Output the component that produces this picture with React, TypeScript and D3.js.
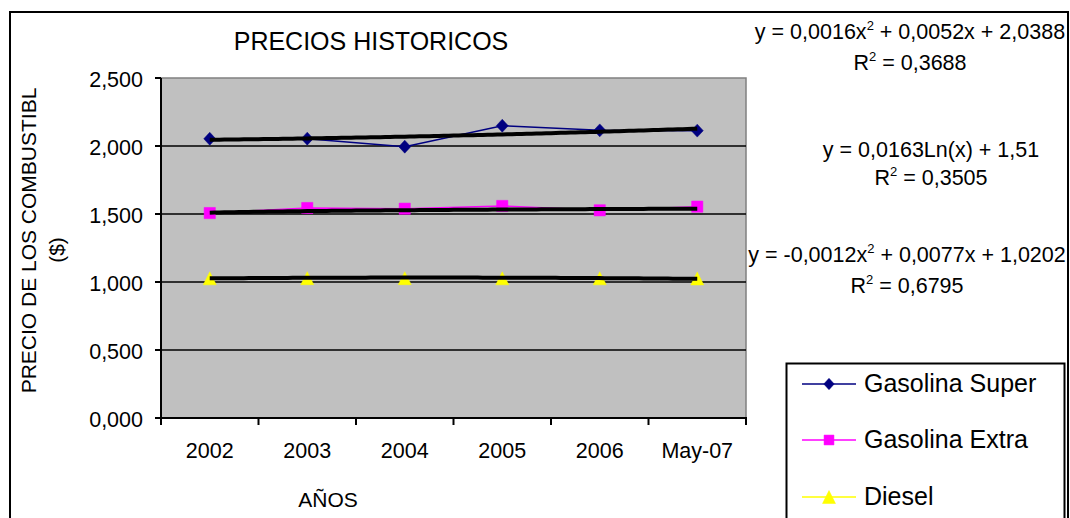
import React from "react";
import * as d3 from "d3";

// Fuel price history per year (units of $)
const categories = ["2002", "2003", "2004", "2005", "2006", "May-07"];
const superValues = [2.053, 2.054, 1.995, 2.149, 2.115, 2.113];
const extraValues = [1.507, 1.544, 1.539, 1.559, 1.527, 1.554];
const dieselValues = [1.027, 1.028, 1.028, 1.027, 1.027, 1.026];
const yTicks = [0, 0.5, 1, 1.5, 2, 2.5];

// Trendline coefficients (x = 1..6)
const superTrend = [0.0016, 0.0052, 2.0388]; // quadratic a, b, c
const extraTrend = [0.0163, 1.51]; // logarithmic a, b
const dieselTrend = [-0.0012, 0.0077, 1.0202]; // quadratic a, b, c
const rSquared = [0.3688, 0.3505, 0.6795];

const seriesNames = ["Gasolina Super", "Gasolina Extra", "Diesel"];
const seriesColors = ["#000080", "#FF00FF", "#FFFF00"];

const FONT = "'Liberation Sans', Arial, sans-serif";
const W = 1070;
const H = 518;

const plot = { left: 161, right: 746, top: 78, bottom: 418 };

const locale = d3.formatLocale({
  decimal: ",",
  thousands: ".",
  grouping: [3],
  currency: ["$", ""],
});
const tickFmt = locale.format(".3f");
const num = (v: number) => String(v).replace(".", ",");

type Shape = "diamond" | "square" | "triangle";

function markerPath(shape: Shape, cx: number, cy: number, s: number): string {
  const p = d3.path();
  const h = s / 2;
  if (shape === "diamond") {
    p.moveTo(cx, cy - h * 1.08);
    p.lineTo(cx + h, cy);
    p.lineTo(cx, cy + h * 1.08);
    p.lineTo(cx - h, cy);
  } else if (shape === "square") {
    p.rect(cx - h * 0.9, cy - h * 0.9, s * 0.9, s * 0.9);
  } else {
    p.moveTo(cx, cy - h);
    p.lineTo(cx + h, cy + h);
    p.lineTo(cx - h, cy + h);
  }
  p.closePath();
  return p.toString();
}

export default function App() {
  const x = d3
    .scaleBand<string>()
    .domain(categories)
    .range([plot.left, plot.right])
    .paddingInner(0)
    .paddingOuter(0);
  const xc = (c: string) => (x(c) as number) + x.bandwidth() / 2;
  const y = d3.scaleLinear().domain([0, 2.5]).range([plot.bottom, plot.top]);

  // trend x (1..6) mapped onto category centres
  const xt = d3
    .scaleLinear()
    .domain([1, categories.length])
    .range([xc(categories[0]), xc(categories[categories.length - 1])]);
  const samples = d3.range(1, categories.length + 0.001, 0.05);
  const quad = (c: number[]) => (t: number) => c[0] * t * t + c[1] * t + c[2];
  const logf = (c: number[]) => (t: number) => c[0] * Math.log(t) + c[1];
  const trendFns = [quad(superTrend), logf(extraTrend), quad(dieselTrend)];

  const lineGen = d3
    .line<[number, number]>()
    .x((d) => d[0])
    .y((d) => d[1]);

  const seriesData = [superValues, extraValues, dieselValues];
  const shapes: Shape[] = ["diamond", "square", "triangle"];
  const markerSizes = [12, 12.5, 13];
  const legendMarkerSizes = [10.5, 11, 13];

  const quadLabel = (c: number[], cx: number, by: number, r2: number) => (
    <g>
      <text x={cx} y={by} textAnchor="middle" fontSize={21.5} fontFamily={FONT} fill="#000">
        <tspan>{`y = ${num(c[0])}x`}</tspan>
        <tspan fontSize={13} dy={-9}>2</tspan>
        <tspan dy={9}>{` + ${num(c[1])}x + ${num(c[2])}`}</tspan>
      </text>
      <text x={cx} y={by + 31} textAnchor="middle" fontSize={21.5} fontFamily={FONT} fill="#000">
        <tspan>R</tspan>
        <tspan fontSize={13} dy={-9}>2</tspan>
        <tspan dy={9}>{` = ${num(r2)}`}</tspan>
      </text>
    </g>
  );

  const legendRows = [384, 440, 497];

  return (
    <svg
      width={W}
      height={H}
      style={{ position: "absolute", left: 0, top: 0, background: "#fff" }}
    >
      {/* chart frame */}
      <rect x={10} y={12} width={1058} height={520} fill="#fff" stroke="#000" strokeWidth={2} />

      {/* title */}
      <text x={371} y={49.5} textAnchor="middle" fontSize={25} fontFamily={FONT} fill="#000">
        PRECIOS HISTORICOS
      </text>

      {/* plot background */}
      <rect
        x={plot.left}
        y={plot.top}
        width={plot.right - plot.left}
        height={plot.bottom - plot.top}
        fill="#C0C0C0"
      />
      {/* gray top/right border */}
      <path
        d={`M${plot.left},${plot.top}H${plot.right}V${plot.bottom}`}
        fill="none"
        stroke="#808080"
        strokeWidth={1.5}
      />

      {/* gridlines */}
      {yTicks
        .filter((t) => t > 0 && t < 2.5)
        .map((t) => (
          <line
            key={"g" + t}
            x1={plot.left}
            x2={plot.right}
            y1={y(t)}
            y2={y(t)}
            stroke="#000"
            strokeWidth={1.5}
          />
        ))}

      {/* axes */}
      <line x1={plot.left} x2={plot.left} y1={plot.top} y2={plot.bottom} stroke="#000" strokeWidth={2} />
      <line x1={plot.left - 1} x2={plot.right + 1} y1={plot.bottom} y2={plot.bottom} stroke="#000" strokeWidth={2} />
      {yTicks.map((t) => (
        <g key={"yt" + t}>
          <line x1={plot.left - 6} x2={plot.left} y1={y(t)} y2={y(t)} stroke="#000" strokeWidth={2} />
          <text
            x={143}
            y={y(t) + 9}
            textAnchor="end"
            fontSize={21.5}
            fontFamily={FONT}
            fill="#000"
          >
            {tickFmt(t)}
          </text>
        </g>
      ))}
      {[...categories.map((c) => x(c) as number), plot.right].map((px, i) => (
        <line key={"xt" + i} x1={px} x2={px} y1={plot.bottom} y2={plot.bottom + 7} stroke="#000" strokeWidth={2} />
      ))}
      {categories.map((c) => (
        <text
          key={"xl" + c}
          x={xc(c)}
          y={458}
          textAnchor="middle"
          fontSize={21.5}
          fontFamily={FONT}
          fill="#000"
        >
          {c}
        </text>
      ))}

      {/* axis titles */}
      <text x={328} y={506.5} textAnchor="middle" fontSize={21} fontFamily={FONT} fill="#000">
        AÑOS
      </text>
      <text
        transform="translate(36,240.5) rotate(-90)"
        textAnchor="middle"
        fontSize={21}
        fontFamily={FONT}
        fill="#000"
      >
        PRECIO DE LOS COMBUSTIBL
      </text>
      <text
        transform="translate(64,250) rotate(-90)"
        textAnchor="middle"
        fontSize={21}
        fontFamily={FONT}
        fill="#000"
      >
        ($)
      </text>

      {/* data series */}
      {seriesData.map((vals, si) => (
        <g key={"s" + si}>
          <path
            d={lineGen(vals.map((v, i) => [xc(categories[i]), y(v)] as [number, number])) || ""}
            fill="none"
            stroke={seriesColors[si]}
            strokeWidth={1.5}
          />
          {vals.map((v, i) => (
            <path
              key={i}
              d={markerPath(shapes[si], xc(categories[i]), y(v), markerSizes[si])}
              fill={seriesColors[si]}
              stroke={seriesColors[si]}
              strokeWidth={0.5}
            />
          ))}
        </g>
      ))}

      {/* trendlines */}
      {trendFns.map((f, i) => (
        <path
          key={"tr" + i}
          d={lineGen(samples.map((t) => [xt(t), y(f(t))] as [number, number])) || ""}
          fill="none"
          stroke="#000"
          strokeWidth={4}
          strokeLinejoin="round"
        />
      ))}

      {/* trendline equations */}
      {quadLabel(superTrend, 910, 39, rSquared[0])}
      <g>
        <text x={931} y={156.5} textAnchor="middle" fontSize={21.5} fontFamily={FONT} fill="#000">
          {`y = ${num(extraTrend[0])}Ln(x) + ${num(extraTrend[1])}`}
        </text>
        <text x={931} y={184.5} textAnchor="middle" fontSize={21.5} fontFamily={FONT} fill="#000">
          <tspan>R</tspan>
          <tspan fontSize={13} dy={-9}>2</tspan>
          <tspan dy={9}>{` = ${num(rSquared[1])}`}</tspan>
        </text>
      </g>
      {quadLabel(dieselTrend, 907, 262, rSquared[2])}

      {/* legend */}
      <rect x={786.5} y={363.5} width={278} height={170} fill="#fff" stroke="#000" strokeWidth={2} />
      {seriesNames.map((name, i) => (
        <g key={"lg" + i}>
          <line
            x1={802}
            x2={856}
            y1={legendRows[i]}
            y2={legendRows[i]}
            stroke={seriesColors[i]}
            strokeWidth={1.5}
          />
          <path
            d={markerPath(shapes[i], 829, legendRows[i], legendMarkerSizes[i])}
            fill={seriesColors[i]}
            stroke={seriesColors[i]}
            strokeWidth={0.5}
          />
          <text
            x={864}
            y={legendRows[i] + 8}
            fontSize={25}
            fontFamily={FONT}
            fill="#000"
          >
            {name}
          </text>
        </g>
      ))}
    </svg>
  );
}
